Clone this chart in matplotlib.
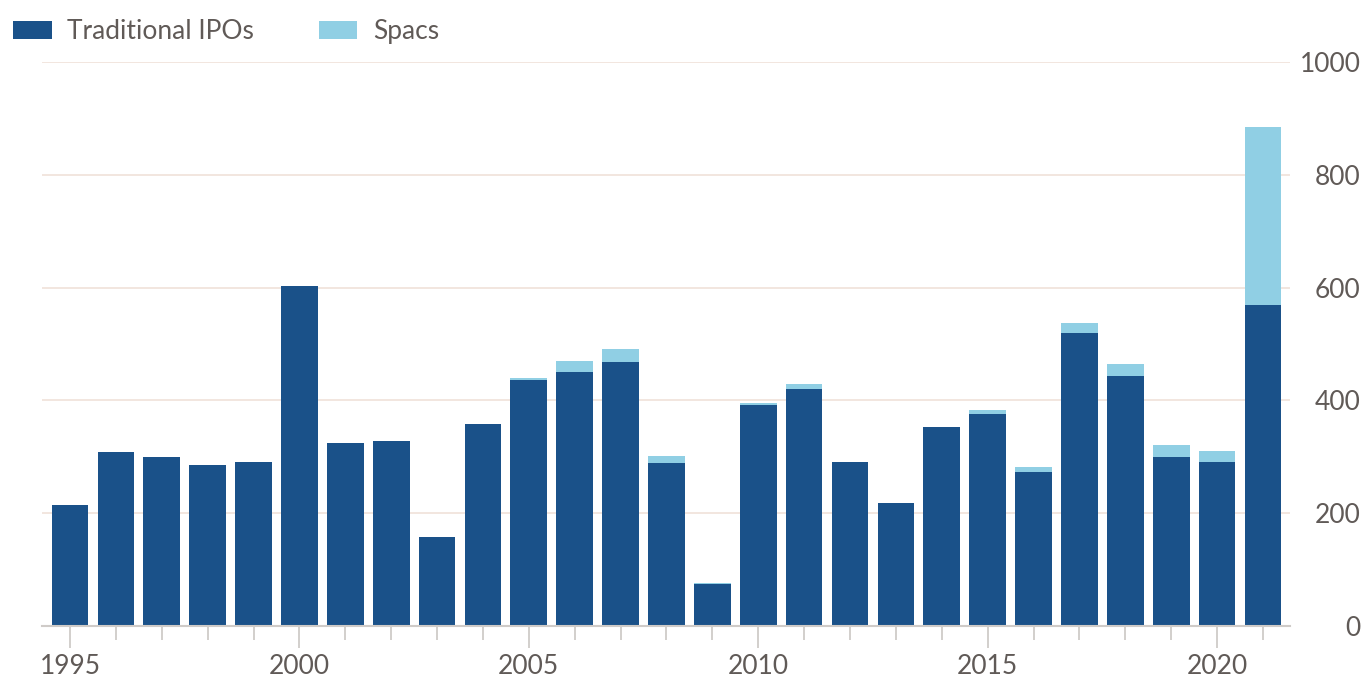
import matplotlib
matplotlib.use("Agg")
import matplotlib.pyplot as plt
import numpy as np

years = list(range(1995, 2022))
traditional = [214, 308, 300, 285, 291, 603, 325, 328, 158, 358, 436, 450, 468, 289, 75,
               392, 420, 291, 218, 353, 376, 273, 519, 443, 300, 291, 569]
spacs = [0, 0, 0, 0, 0, 0, 0, 0, 0, 0, 4, 20, 23, 12, 1,
         3, 9, 0, 0, 0, 7, 9, 18, 21, 21, 19, 316]
series_names = ["Traditional IPOs", "Spacs"]
yticks = [0, 200, 400, 600, 800, 1000]
xlabel_years = [1995, 2000, 2005, 2010, 2015, 2020]

dark = "#1a5189"
light = "#90cfe4"
text_col = "#605a57"
grid_col = "#f1e4dc"
axis_col = "#cfcbc8"

plt.rcParams['font.family'] = ['Lato', 'DejaVu Sans']
FS = 19

W, H = 1368, 684
fig = plt.figure(figsize=(W / 100, H / 100), dpi=100)
ax_left, ax_right = 42, 1290
ax_top, ax_bottom = 62, 626
ax = fig.add_axes([ax_left / W, 1 - ax_bottom / H, (ax_right - ax_left) / W, (ax_bottom - ax_top) / H])

x = np.array(years)
b1 = ax.bar(x, traditional, width=0.8, color=dark, label=series_names[0], zorder=3)
b2 = ax.bar(x, spacs, width=0.8, bottom=traditional, color=light, label=series_names[1], zorder=3)

ax.set_xlim(1994.39, 2021.59)
ax.set_ylim(0, 1000)

for s in ['top', 'left', 'right']:
    ax.spines[s].set_visible(False)
ax.spines['bottom'].set_color(axis_col)
ax.spines['bottom'].set_linewidth(1.5)
ax.spines['bottom'].set_zorder(4)

ax.set_yticks(yticks)
ax.set_yticklabels([str(v) for v in yticks])
ax.yaxis.tick_right()
ax.tick_params(axis='y', length=0, pad=51, labelsize=FS, labelcolor=text_col)
for lab in ax.get_yticklabels():
    lab.set_ha('right')
ax.grid(axis='y', color=grid_col, linewidth=1.3, zorder=0)

ax.set_xticks(xlabel_years)
ax.set_xticklabels([str(v) for v in xlabel_years])
ax.set_xticks(years, minor=True)
ax.tick_params(axis='x', which='major', length=16, width=1.3, color=axis_col,
               labelsize=FS, labelcolor=text_col, pad=4)
ax.tick_params(axis='x', which='minor', length=10, width=1.3, color=axis_col)

leg = fig.legend(handles=[b1, b2], labels=series_names, loc='upper left',
                 bbox_to_anchor=(8 / W, 1 - 14 / H), ncol=2, frameon=False,
                 fontsize=FS, handlelength=1.45, handleheight=0.7, handletextpad=0.6,
                 columnspacing=2.45, borderaxespad=0, borderpad=0.2)
for t in leg.get_texts():
    t.set_color(text_col)

fig.savefig("out.png", dpi=100)
